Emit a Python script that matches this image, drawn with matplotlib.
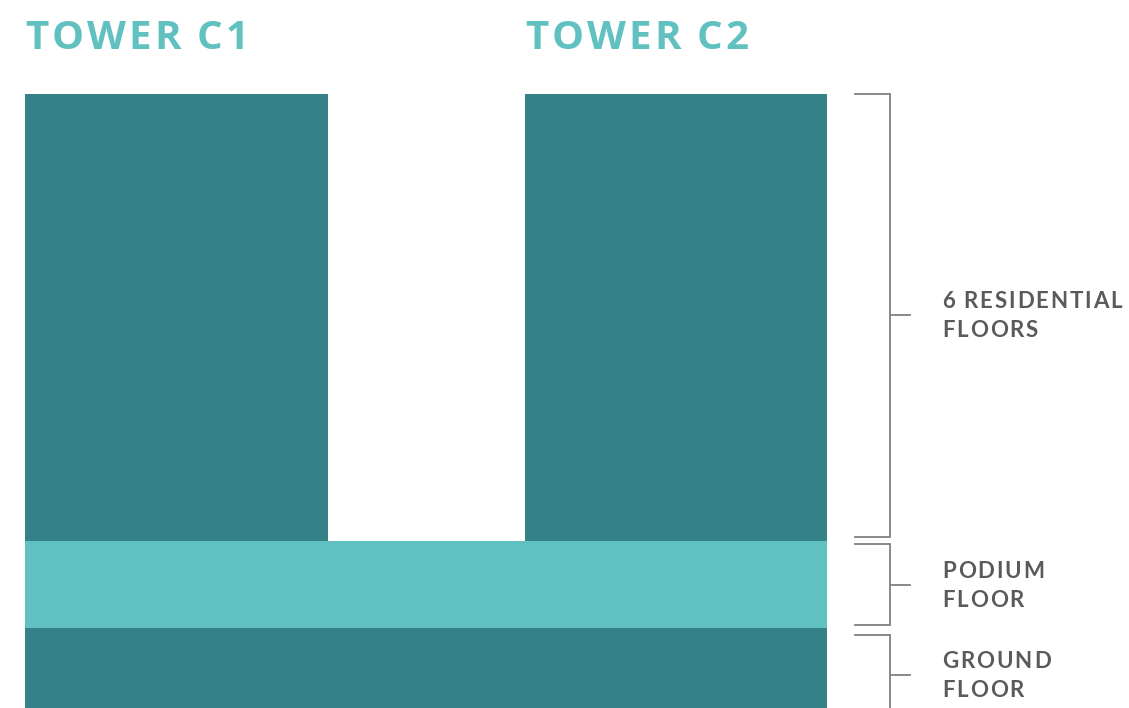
import matplotlib
matplotlib.use("Agg")
import matplotlib.pyplot as plt

# --- building sections (x spans and vertical spans, pixel-like units, y up) ---
tower_names = ["TOWER C1", "TOWER C2"]
tower_left = [25, 525]
tower_width = [303, 302]
levels = [["GROUND", "FLOOR"], ["PODIUM", "FLOOR"], ["6 RESIDENTIAL", "FLOORS"]]
level_bottom = [0, 80, 167]
level_height = [80, 87, 447]
# bracket spans for each level label
bracket_lo = [-10, 83, 171]
bracket_hi = [73, 164, 614]
label_mid = [33, 123, 393]

DARK = "#348187"
LIGHT = "#61c0c0"
GREY = "#5a5a5a"

fig = plt.figure(figsize=(11.29, 7.08), dpi=100)
ax = fig.add_axes([0, 0, 1, 1])
ax.set_xlim(0, 1129)
ax.set_ylim(0, 708)
ax.axis("off")
renderer = fig.canvas.get_renderer()


def tracked(x, y, s, track, **kw):
    # draw text char by char with extra spacing (pixels == data units here)
    for ch in s:
        t = ax.text(x, y, ch, ha="left", va="baseline", **kw)
        w = t.get_window_extent(renderer).width
        if ch == " ":
            w = kw["fontsize"] * 0.3
        x += w + track


# ground + podium span both towers
full_left = tower_left[0]
full_width = tower_left[1] + tower_width[1] - tower_left[0]
ax.bar(full_left, level_height[0], width=full_width, bottom=level_bottom[0],
       align="edge", color=DARK, linewidth=0)
ax.bar(full_left, level_height[1], width=full_width, bottom=level_bottom[1],
       align="edge", color=LIGHT, linewidth=0)
# residential towers
ax.bar(tower_left, level_height[2], width=tower_width, bottom=level_bottom[2],
       align="edge", color=DARK, linewidth=0)

for name, x in zip(tower_names, tower_left):
    tracked(x, 659, name, 3.2, fontsize=29, fontweight="bold", color=LIGHT,
            family=["Open Sans", "DejaVu Sans"])

# brackets
bx0, bx1, btick = 855, 890, 910
for lab, lo, hi, mid in zip(levels, bracket_lo, bracket_hi, label_mid):
    ax.plot([bx0, bx1, bx1, bx0], [hi, hi, lo, lo], color="#808080", lw=1.3,
            solid_joinstyle="miter")
    ax.plot([bx1, btick], [mid, mid], color="#808080", lw=1.3)
    tracked(942, mid + 6.5, lab[0], 1.9, fontsize=16, fontweight="bold",
            color=GREY, family=["Lato", "DejaVu Sans"])
    tracked(942, mid - 22, lab[1], 1.9, fontsize=16, fontweight="bold",
            color=GREY, family=["Lato", "DejaVu Sans"])

fig.savefig("out.png", dpi=100)
